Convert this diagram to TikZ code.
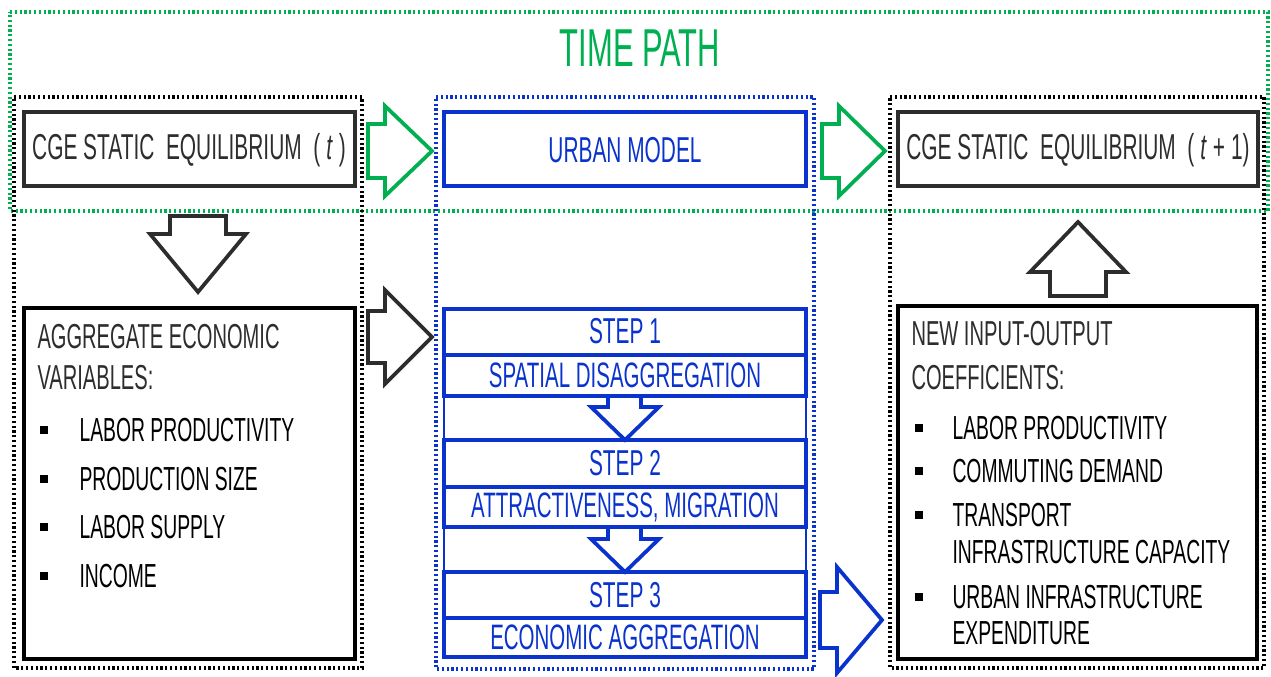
\documentclass[tikz,border=0pt]{standalone}
\usepackage{fontspec}
\setmainfont{Liberation Sans}[FakeStretch=0.58]
\definecolor{tpgreen}{RGB}{0,176,80}
\definecolor{umblue}{RGB}{10,50,205}
\definecolor{cgegray}{RGB}{45,45,45}
\tikzset{every picture/.style={line width=0.75pt}}
\tikzset{
  greenframe/.style={draw=tpgreen,line width=2.3pt,dash pattern=on 1.7pt off 1.9pt},
  blackframe/.style={draw=black,line width=2.3pt,dash pattern=on 1.7pt off 1.9pt},
  blueframe/.style={draw=umblue,line width=2.3pt,dash pattern=on 1.7pt off 1.9pt},
  cgebox/.style={draw=cgegray,line width=2.8pt},
  listbox/.style={draw=black,line width=3.4pt},
  urbanbox/.style={draw=umblue,line width=3.4pt},
  stepbox/.style={draw=umblue,line width=2.6pt},
  greenarrow/.style={draw=tpgreen,line width=2.8pt,fill=white},
  blackarrow/.style={draw=cgegray,line width=2.8pt,fill=white},
  bluearrow/.style={draw=umblue,line width=2.8pt,fill=white},
  bigtxt/.style={inner sep=0.75pt,text=cgegray,font=\fontsize{27}{32}\selectfont},
  headtxt/.style={inner sep=0.75pt,text=cgegray,font=\fontsize{26}{31}\selectfont},
  itemtxt/.style={inner sep=0.75pt,text=black,font=\fontsize{25}{30}\selectfont},
  steptxt/.style={inner sep=0.75pt,text=umblue,font=\fontsize{27}{32}\selectfont},
  substeptxt/.style={inner sep=0.75pt,text=umblue,font=\fontsize{26.5}{31}\selectfont},
  bulletbox/.style={fill=black,inner sep=0pt,minimum size=6pt}
}

\begin{document}
\begin{tikzpicture}[x=0.75pt,y=0.75pt,yscale=-1,xscale=1]
\useasboundingbox (0,0) rectangle (1271,677);

%Shape: Rectangle (time path)
\draw [greenframe] (10,12) -- (1268,12) -- (1268,211) -- (10,211) -- cycle ;
%Shape: Rectangle (left column)
\draw [blackframe] (14,97) -- (362,97) -- (362,668) -- (14,668) -- cycle ;
%Shape: Rectangle (middle column)
\draw [blueframe] (436,97) -- (814,97) -- (814,669) -- (436,669) -- cycle ;
%Shape: Rectangle (right column)
\draw [blackframe] (890,97) -- (1264,97) -- (1264,668) -- (890,668) -- cycle ;

%Shape: Rectangle
\draw [cgebox] (24,112) -- (355,112) -- (355,186) -- (24,186) -- cycle ;
%Shape: Rectangle
\draw [urbanbox] (444,112) -- (806,112) -- (806,186) -- (444,186) -- cycle ;
%Shape: Rectangle
\draw [cgebox] (898,112) -- (1258,112) -- (1258,186) -- (898,186) -- cycle ;
%Shape: Rectangle
\draw [listbox] (24,308) -- (355,308) -- (355,659) -- (24,659) -- cycle ;
%Shape: Rectangle
\draw [listbox] (898,306) -- (1257,306) -- (1257,659) -- (898,659) -- cycle ;

%Shape: Rectangle (steps outline)
\draw [draw=umblue,line width=1pt] (444,309) -- (806,309) -- (806,657) -- (444,657) -- cycle ;
%Shape: Rectangle
\draw [stepbox] (444,309) -- (806,309) -- (806,355) -- (444,355) -- cycle ;
\draw [stepbox] (444,355) -- (806,355) -- (806,396) -- (444,396) -- cycle ;
%Shape: Rectangle
\draw [stepbox] (444,440) -- (806,440) -- (806,487) -- (444,487) -- cycle ;
\draw [stepbox] (444,487) -- (806,487) -- (806,527) -- (444,527) -- cycle ;
%Shape: Rectangle
\draw [stepbox] (444,572) -- (806,572) -- (806,618) -- (444,618) -- cycle ;
\draw [stepbox] (444,618) -- (806,618) -- (806,657) -- (444,657) -- cycle ;

%Shape: Right Arrow
\draw [greenarrow] (368,124) -- (385,124) -- (385,106) -- (432,151) -- (385,196) -- (385,178) -- (368,178) -- cycle ;
%Shape: Right Arrow
\draw [greenarrow] (822,124) -- (839,124) -- (839,106) -- (885,151) -- (839,196) -- (839,178) -- (822,178) -- cycle ;
%Shape: Right Arrow
\draw [blackarrow] (368,311) -- (385,311) -- (385,290) -- (432,337) -- (385,384) -- (385,363) -- (368,363) -- cycle ;
%Shape: Right Arrow
\draw [bluearrow] (820,592) -- (837,592) -- (837,567) -- (882,620) -- (837,673) -- (837,648) -- (820,648) -- cycle ;
%Shape: Down Arrow
\draw [blackarrow] (170,216) -- (226,216) -- (226,234) -- (246,234) -- (198,292) -- (150,234) -- (170,234) -- cycle ;
%Shape: Up Arrow
\draw [blackarrow] (1078,222) -- (1126,272) -- (1106,272) -- (1106,296) -- (1050,296) -- (1050,272) -- (1030,272) -- cycle ;
%Shape: Down Arrow
\draw [bluearrow] (608,396) -- (641,396) -- (641,407) -- (659,407) -- (625,440) -- (591,407) -- (608,407) -- cycle ;
%Shape: Down Arrow
\draw [bluearrow] (608,527) -- (641,527) -- (641,539) -- (659,539) -- (625,572) -- (591,539) -- (608,539) -- cycle ;

% Text Node
\draw (640,48) node [inner sep=0.75pt,text=tpgreen,font=\fontsize{40}{46}\selectfont] (timepath) {TIME PATH};
% Text Node
\draw (189,150) node [bigtxt] (cget) {CGE STATIC\ \ EQUILIBRIUM\ \ (\,\textit{t}\,)};
% Text Node
\draw (625,150) node [steptxt] (urban) {URBAN MODEL};
% Text Node
\draw (1078,150) node [bigtxt] (cgetone) {CGE STATIC\ \ EQUILIBRIUM\ \ (\,\textit{t}\,+\,1)};

% Text Node
\draw (625,331) node [steptxt] (stepone) {STEP 1};
% Text Node
\draw (625,375) node [substeptxt] (spatial) {SPATIAL DISAGGREGATION};
% Text Node
\draw (625,463) node [steptxt] (steptwo) {STEP 2};
% Text Node
\draw (625,507) node [substeptxt] (attract) {ATTRACTIVENESS, MIGRATION};
% Text Node
\draw (625,595) node [steptxt] (stepthree) {STEP 3};
% Text Node
\draw (625,637) node [substeptxt] (aggreg) {ECONOMIC AGGREGATION};

% Text Node
\draw (36,337) node [anchor=west][headtxt] (aggone) {AGGREGATE\ ECONOMIC};
% Text Node
\draw (36,378) node [anchor=west][headtxt] (aggtwo) {VARIABLES:};
% Text Node
\draw (44,430) node [bulletbox] (bla) {};
\draw (78,430) node [anchor=west][itemtxt] (labprod) {LABOR PRODUCTIVITY};
% Text Node
\draw (44,479) node [bulletbox] (blb) {};
\draw (78,479) node [anchor=west][itemtxt] (prodsize) {PRODUCTION SIZE};
% Text Node
\draw (44,527) node [bulletbox] (blc) {};
\draw (78,527) node [anchor=west][itemtxt] (labsupply) {LABOR SUPPLY};
% Text Node
\draw (44,576) node [bulletbox] (bld) {};
\draw (78,576) node [anchor=west][itemtxt] (income) {INCOME};

% Text Node
\draw (910,334) node [anchor=west][headtxt] (newone) {NEW INPUT-OUTPUT};
% Text Node
\draw (910,378) node [anchor=west][headtxt] (newtwo) {COEFFICIENTS:};
% Text Node
\draw (919,428) node [bulletbox] (bra) {};
\draw (951,428) node [anchor=west][itemtxt] (labprodr) {LABOR PRODUCTIVITY};
% Text Node
\draw (919,471) node [bulletbox] (brb) {};
\draw (951,471) node [anchor=west][itemtxt] (commute) {COMMUTING DEMAND};
% Text Node
\draw (919,515) node [bulletbox] (brc) {};
\draw (951,515) node [anchor=west][itemtxt] (transp) {TRANSPORT};
\draw (951,552) node [anchor=west][itemtxt] (infracap) {INFRASTRUCTURE CAPACITY};
% Text Node
\draw (919,597) node [bulletbox] (brd) {};
\draw (951,597) node [anchor=west][itemtxt] (urbinfra) {URBAN INFRASTRUCTURE};
\draw (951,633) node [anchor=west][itemtxt] (expend) {EXPENDITURE};

\end{tikzpicture}
\end{document}
